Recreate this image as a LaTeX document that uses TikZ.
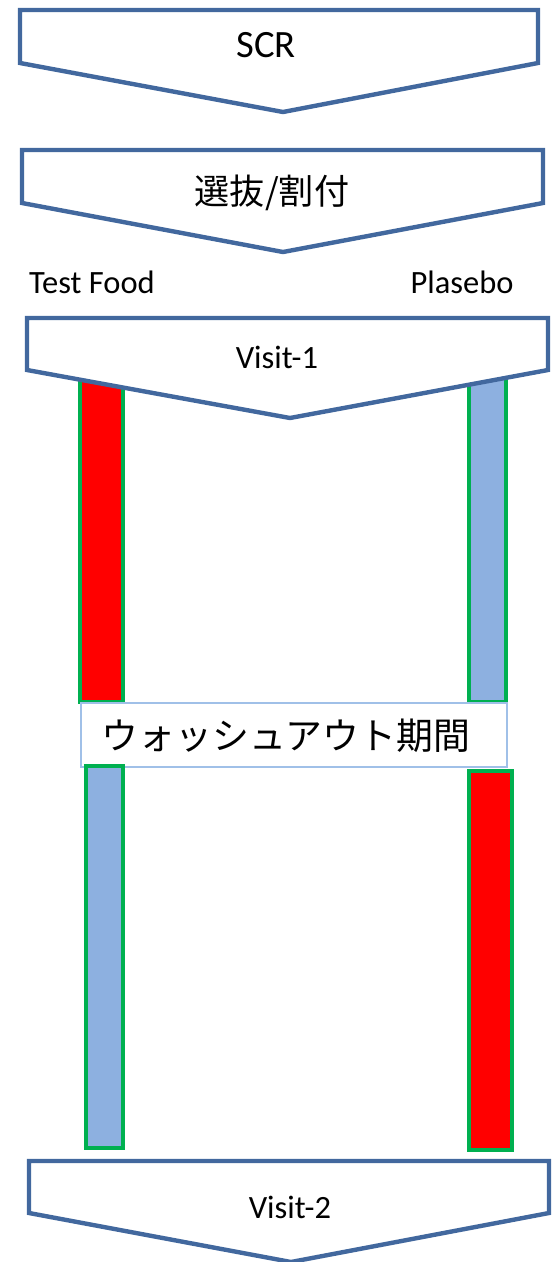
\documentclass[tikz,border=0pt]{standalone}
\usepackage{fontspec}
\setmainfont{Carlito}
\newfontfamily\jpfont{Noto Sans CJK JP}
\usepackage{tikz}
\usetikzlibrary{positioning}

\definecolor{chevblue}{RGB}{66,104,158}
\definecolor{barblue}{RGB}{141,176,224}
\definecolor{bargreen}{RGB}{0,176,80}
\definecolor{washblue}{RGB}{160,192,232}

\begin{document}
\begin{tikzpicture}[
  x=0.02cm, y=-0.02cm,
  chev/.style={draw=chevblue, line width=2.5pt, fill=white, line join=miter},
  lbl/.style={font=\fontsize{18.5}{22}\selectfont, inner sep=0pt},
  redbar/.style={draw=bargreen, line width=2pt, fill=red},
  bluebar/.style={draw=bargreen, line width=2pt, fill=barblue},
  washbox/.style={draw=washblue, line width=1pt, fill=white}
]
\useasboundingbox (0,0) rectangle (556,1262);

%% ---- Screening / allocation ----
\draw[chev] (20,10) -- (538,10) -- (538,63) -- (283,112) -- (20,63) -- cycle;
\node[lbl, font=\fontsize{22}{26}\selectfont] (scr) at (266,45) {SCR};

\draw[chev] (22,150) -- (543,150) -- (543,203) -- (283,252) -- (22,203) -- cycle;
\node[lbl, font=\jpfont\fontsize{20}{24}\selectfont] (alloc) at (272,193) {選抜/割付};

\node[lbl] (food) at (92,282) {Test Food};
\node[lbl] (plac) at (462,282) {Plasebo};

%% ---- Period 1 ----
\draw[redbar]  (80,360) rectangle (123,702);
\draw[bluebar] (469,360) rectangle (506,702);

\draw[chev] (27,318) -- (548,318) -- (548,370) -- (290,418) -- (27,370) -- cycle;
\node[lbl] (v1) at (277,357) {Visit-1};

%% ---- Washout ----
\node[washbox, minimum width=426*0.02cm, minimum height=64*0.02cm, anchor=north west,
      inner sep=0pt] (wash) at (80,702) {};
\node[lbl, font=\jpfont\fontsize{21}{24}\selectfont] (washtxt) at (286,736) {ウォッシュアウト期間};

%% ---- Period 2 ----
\draw[bluebar] (86,766) rectangle (123,1148);
\draw[redbar]  (469,771) rectangle (512,1150);

\draw[chev] (29,1161) -- (549,1161) -- (549,1213) -- (291,1262) -- (29,1213) -- cycle;
\node[lbl] (v2) at (290,1207) {Visit-2};

\end{tikzpicture}
\end{document}
